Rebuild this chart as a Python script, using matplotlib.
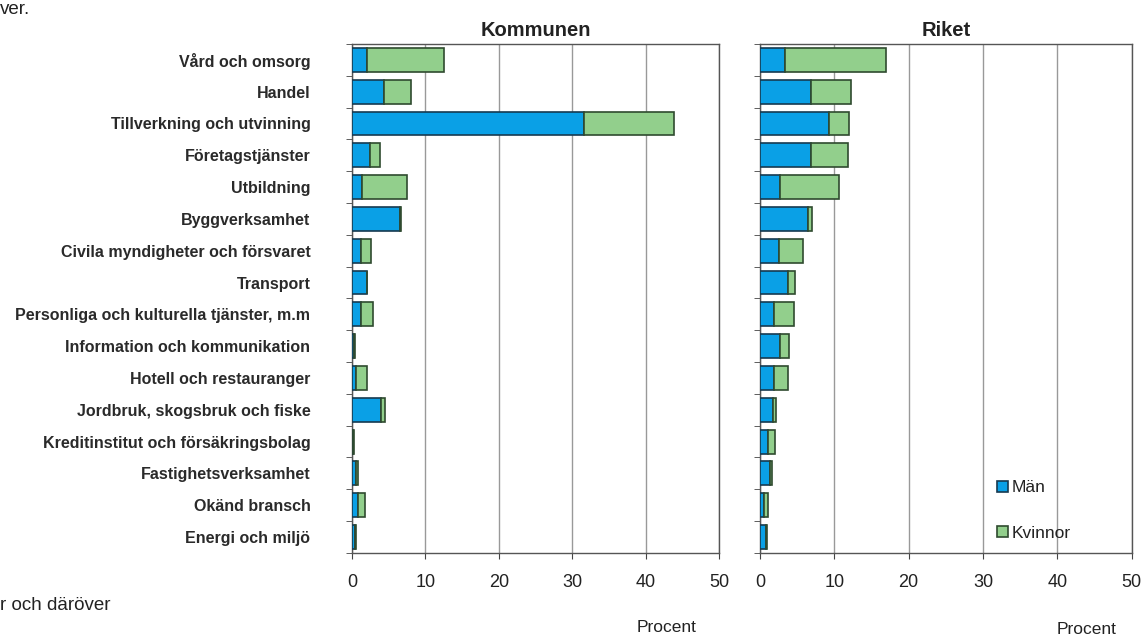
import matplotlib.pyplot as plt
import numpy as np

plt.rcParams["font.family"] = ["Liberation Sans", "DejaVu Sans"]

categories = [
    "Vård och omsorg",
    "Handel",
    "Tillverkning och utvinning",
    "Företagstjänster",
    "Utbildning",
    "Byggverksamhet",
    "Civila myndigheter och försvaret",
    "Transport",
    "Personliga och kulturella tjänster, m.m",
    "Information och kommunikation",
    "Hotell och restauranger",
    "Jordbruk, skogsbruk och fiske",
    "Kreditinstitut och försäkringsbolag",
    "Fastighetsverksamhet",
    "Okänd bransch",
    "Energi och miljö",
]

kommun_man = [2.0, 4.3, 31.6, 2.5, 1.4, 6.5, 1.2, 2.0, 1.2, 0.3, 0.6, 3.9, 0.1, 0.5, 0.8, 0.4]
kommun_kvinnor = [10.5, 3.7, 12.3, 1.3, 6.1, 0.2, 1.4, 0.1, 1.6, 0.1, 1.4, 0.6, 0.1, 0.3, 0.9, 0.1]

riket_man = [3.4, 6.8, 9.3, 6.8, 2.7, 6.5, 2.5, 3.8, 1.9, 2.7, 1.9, 1.7, 1.0, 1.3, 0.5, 0.8]
riket_kvinnor = [13.5, 5.5, 2.7, 5.0, 7.9, 0.5, 3.3, 0.9, 2.6, 1.2, 1.8, 0.5, 1.0, 0.3, 0.6, 0.1]

BLUE = "#0aa0e6"
GREEN = "#92cf8c"
EDGE_BLUE = "#173a50"
EDGE_GREEN = "#2f4a2f"
TEXT = "#222222"


def draw_panel(ax, man, kvinnor, title):
    y = np.arange(len(categories))
    ax.barh(y, man, height=0.75, color=BLUE, edgecolor=EDGE_BLUE, linewidth=1.2,
            label="Män", zorder=3)
    ax.barh(y, kvinnor, left=man, height=0.75, color=GREEN, edgecolor=EDGE_GREEN,
            linewidth=1.2, label="Kvinnor", zorder=3)
    ax.set_xlim(0, 50)
    ax.set_ylim(len(categories) - 0.5, -0.5)
    ax.set_xticks(range(0, 51, 10))
    ax.set_yticks(np.arange(len(categories) + 1) - 0.5, minor=True)
    ax.set_yticks(y)
    ax.tick_params(axis="y", which="major", length=0)
    ax.tick_params(axis="y", which="minor", length=4, color="#444444")
    ax.tick_params(axis="x", length=4, labelsize=13, labelcolor=TEXT,
                   color="#444444", pad=11)
    ax.grid(axis="x", color="#999999", linewidth=1.0, zorder=0)
    for s in ax.spines.values():
        s.set_color("#555555")
        s.set_linewidth(1.0)
    ax.set_title(title, fontsize=14.5, fontweight="bold", pad=6, color=TEXT)


fig = plt.figure(figsize=(11.43, 6.37), dpi=100)
ax1 = fig.add_axes([0.308, 0.132, 0.321, 0.799])
ax2 = fig.add_axes([0.665, 0.132, 0.325, 0.799])

draw_panel(ax1, kommun_man, kommun_kvinnor, "Kommunen")
draw_panel(ax2, riket_man, riket_kvinnor, "Riket")

ax1.set_yticklabels(categories, fontsize=11.5, fontweight="bold", color="#2a2a2a")
ax1.tick_params(axis="y", pad=30)
ax2.set_yticklabels([])

leg = ax2.legend(loc="lower left", bbox_to_anchor=(0.62, 0.01), frameon=False,
                 fontsize=12.5, labelspacing=1.75, handlelength=0.6, handleheight=0.6,
                 handletextpad=0.2, borderaxespad=0)
for t in leg.get_texts():
    t.set_color(TEXT)

fig.text(0.583, 0.003, "Procent", fontsize=12.5, ha="center", va="bottom", color=TEXT)
fig.text(0.951, 0.0, "Procent", fontsize=12.5, ha="center", va="bottom", color=TEXT)
fig.text(0.0, 0.05, "r och däröver", fontsize=13.5, ha="left", va="center", color=TEXT)
fig.text(0.0, 0.999, "ver.", fontsize=13.5, ha="left", va="top", color=TEXT)

fig.savefig("out.png", dpi=100)
